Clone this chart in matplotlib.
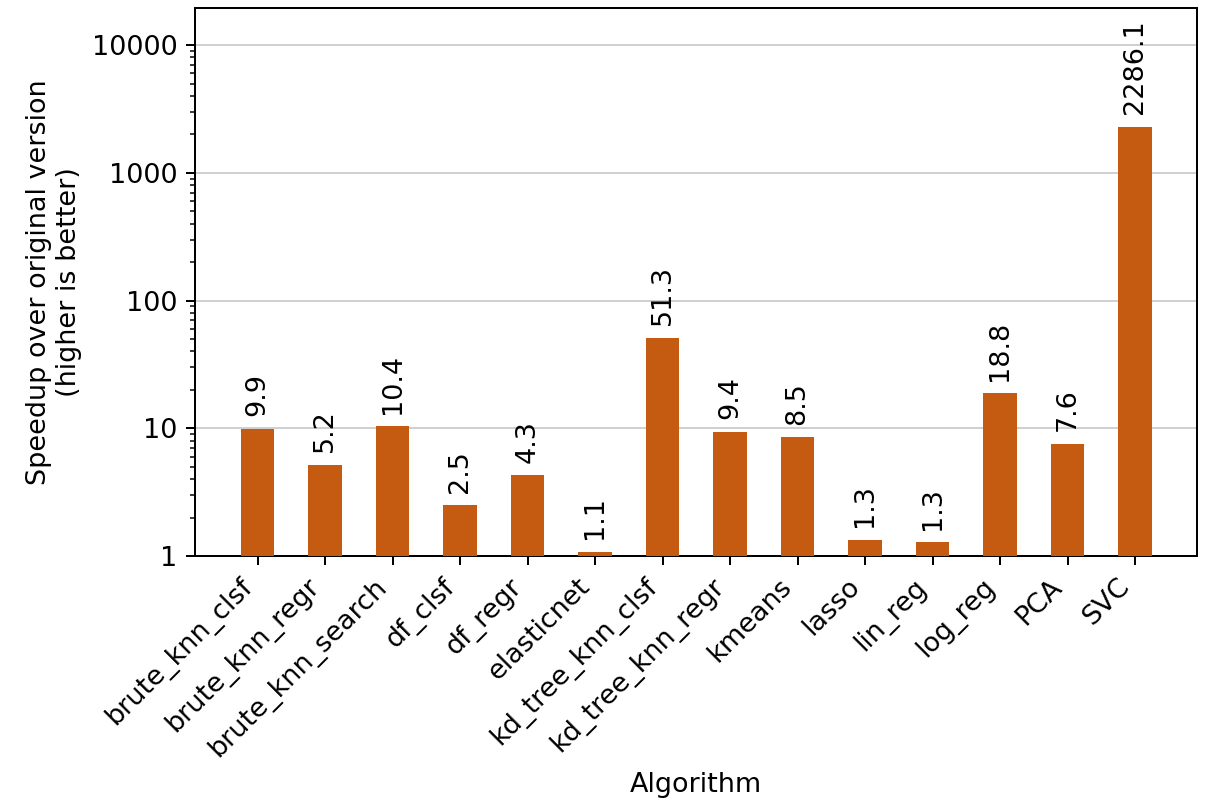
import numpy as np
import matplotlib.pyplot as plt
from matplotlib.ticker import FuncFormatter

algorithms = ["brute_knn_clsf", "brute_knn_regr", "brute_knn_search", "df_clsf",
              "df_regr", "elasticnet", "kd_tree_knn_clsf", "kd_tree_knn_regr",
              "kmeans", "lasso", "lin_reg", "log_reg", "PCA", "SVC"]
speedup = [9.9, 5.2, 10.4, 2.5, 4.3, 1.08, 51.3, 9.4, 8.5, 1.34, 1.28, 18.8, 7.6, 2286.1]

plt.rcParams["font.size"] = 10.8

fig = plt.figure(figsize=(1212/180, 799/180), dpi=180)
ax = fig.add_subplot(111)
fig.subplots_adjust(left=0.161, right=0.988, top=0.990, bottom=0.304)

x = np.arange(len(algorithms))
ax.bar(x, speedup, width=0.5, color="#c55a11", zorder=3)
ax.set_yscale("log")
ax.set_ylim(1, 1.95e4)
ax.yaxis.set_major_formatter(FuncFormatter(lambda v, p: "%d" % v))
ax.grid(True, axis="y", color="#d0d0d0", linewidth=0.8, zorder=0)

for xi, s in zip(x, speedup):
    ax.annotate("%.1f" % s, (xi, s), xytext=(0, 5), textcoords="offset points",
                ha="center", va="bottom", rotation=90)

ax.set_xticks(x)
ax.set_xticklabels(algorithms, rotation=45, ha="right")
ax.set_xlabel("Algorithm")
ax.set_ylabel("Speedup over original version\n(higher is better)")

fig.savefig("out.png", dpi=180)
